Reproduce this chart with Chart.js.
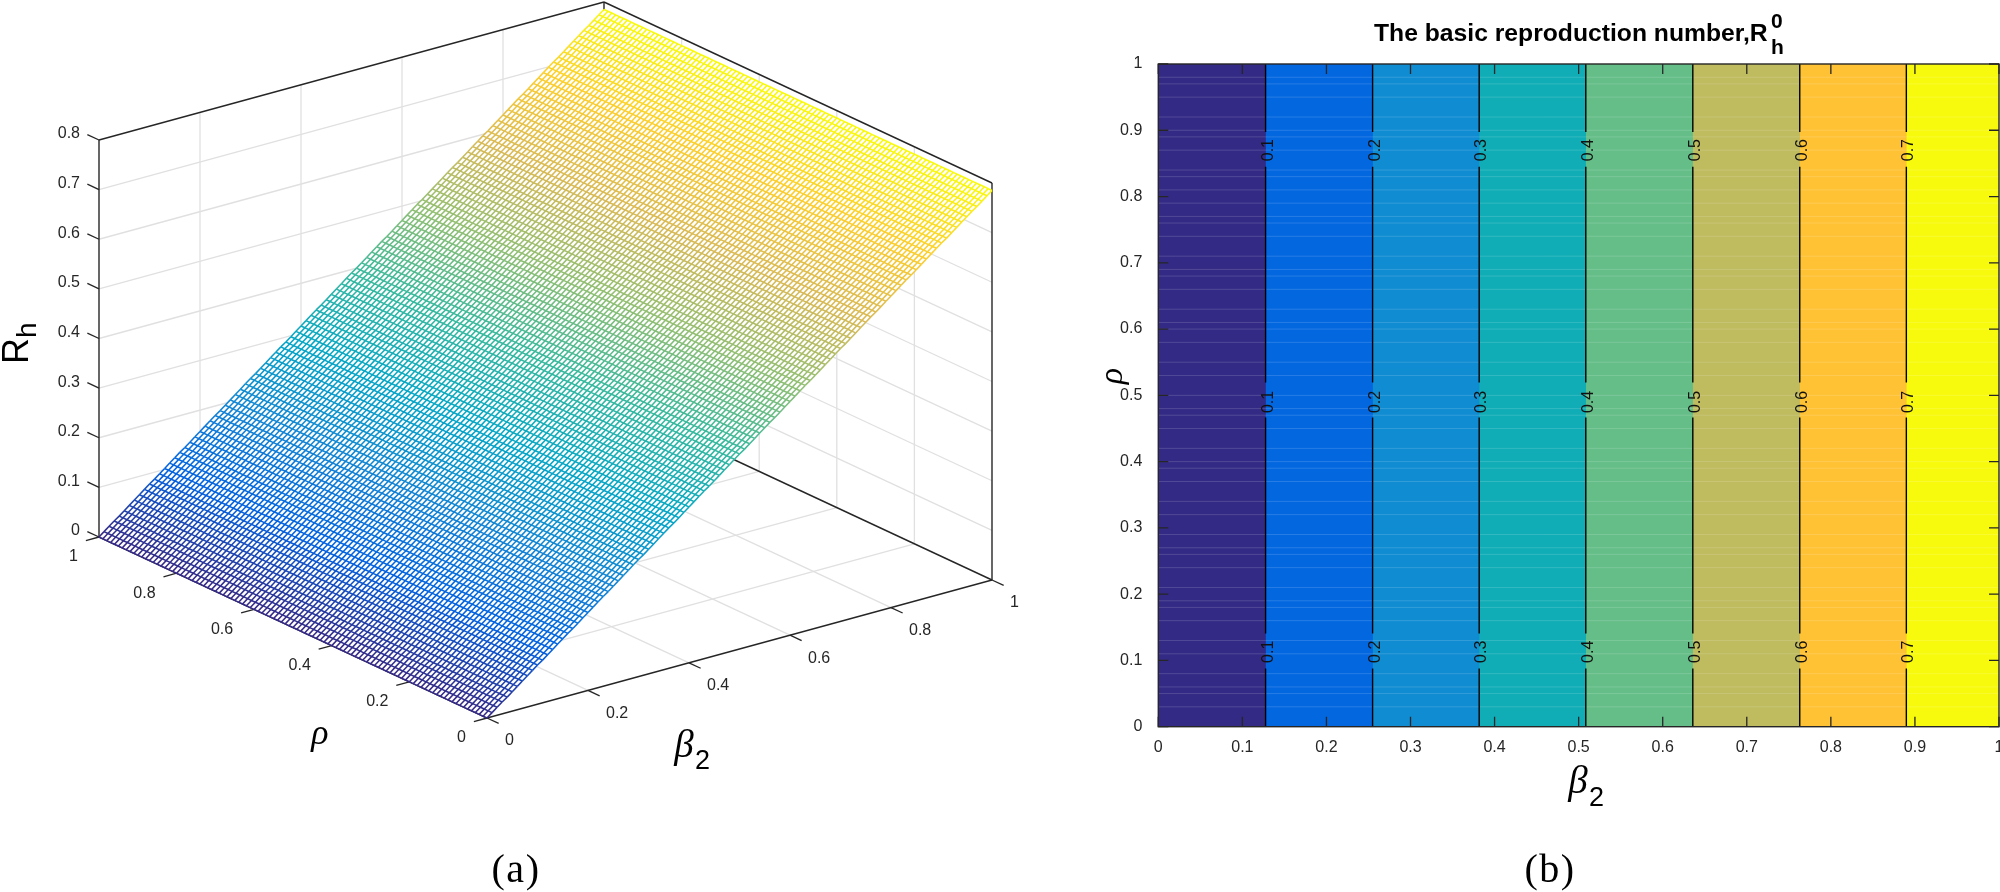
<!DOCTYPE html>
<html><head><meta charset="utf-8">
<style>html,body{margin:0;padding:0;background:#fff;overflow:hidden}canvas{position:absolute;top:0}</style>
<script src="https://cdn.jsdelivr.net/npm/chart.js@4"></script></head><body>
<canvas id="left" width="1080" height="892" style="left:0"></canvas>
<canvas id="right" width="920" height="892" style="left:1080px"></canvas>
<script>
// ---------- data ----------
const rhoTicks=[0,0.2,0.4,0.6,0.8,1];
const betaTicks=[0,0.2,0.4,0.6,0.8,1];
const zTicks=[0,0.1,0.2,0.3,0.4,0.5,0.6,0.7,0.8];
const meshBeta=[0,.01,.02,.03,.04,.05,.06,.07,.08,.09,.1,.11,.12,.13,.14,.15,.16,.17,.18,.19,.2,.21,.22,.23,.24,.25,.26,.27,.28,.29,.3,.31,.32,.33,.34,.35,.36,.37,.38,.39,.4,.41,.42,.43,.44,.45,.46,.47,.48,.49,.5,.51,.52,.53,.54,.55,.56,.57,.58,.59,.6,.61,.62,.63,.64,.65,.66,.67,.68,.69,.7,.71,.72,.73,.74,.75,.76,.77,.78,.79,.8,.81,.82,.83,.84,.85,.86,.87,.88,.89,.9,.91,.92,.93,.94,.95,.96,.97,.98,.99,1];
const meshRho=[0,.01,.02,.03,.04,.05,.06,.07,.08,.09,.1,.11,.12,.13,.14,.15,.16,.17,.18,.19,.2,.21,.22,.23,.24,.25,.26,.27,.28,.29,.3,.31,.32,.33,.34,.35,.36,.37,.38,.39,.4,.41,.42,.43,.44,.45,.46,.47,.48,.49,.5,.51,.52,.53,.54,.55,.56,.57,.58,.59,.6,.61,.62,.63,.64,.65,.66,.67,.68,.69,.7,.71,.72,.73,.74,.75,.76,.77,.78,.79,.8,.81,.82,.83,.84,.85,.86,.87,.88,.89,.9,.91,.92,.93,.94,.95,.96,.97,.98,.99,1];
const meshRh=[0,.008,.016,.024,.031,.039,.047,.055,.063,.071,.079,.086,.094,.102,.110,.118,.126,.133,.141,.149,.157,.165,.173,.181,.188,.196,.204,.212,.220,.228,.236,.243,.251,.259,.267,.275,.283,.290,.298,.306,.314,.322,.330,.338,.345,.353,.361,.369,.377,.385,.393,.400,.408,.416,.424,.432,.440,.447,.455,.463,.471,.479,.487,.495,.502,.510,.518,.526,.534,.542,.550,.557,.565,.573,.581,.589,.597,.604,.612,.620,.628,.636,.644,.652,.659,.667,.675,.683,.691,.699,.707,.714,.722,.730,.738,.746,.754,.761,.769,.777,.785];
const contourLevels=[0.1,0.2,0.3,0.4,0.5,0.6,0.7];
const contourBeta=[0.1276,0.2549,0.3817,0.5085,0.6358,0.763,0.8898];
const bandEdges=[0,0.1276,0.2549,0.3817,0.5085,0.6358,0.763,0.8898];
const bandColors=['#332A85','#0367E0','#108CD2','#10ADB6','#65BE88','#BFBB5F','#FFC235','#F8FA0D'];
const labelCentres=[0.113,0.49,0.87];
const labelGaps=[[0.088,0.1408],[0.4665,0.5193],[0.845,0.8974]];
const axisTicks=[0,0.1,0.2,0.3,0.4,0.5,0.6,0.7,0.8,0.9,1];
const seams=[.03,.05,.06,.08,.11,.13,.16,.18,.19,.21,.24,.26,.27,.29,.32,.34,.37,.39,.40,.42,.45,.47,.48,.50,.53,.55,.58,.60,.61,.63,.66,.68,.69,.71,.74,.76,.77,.79,.81,.83,.84,.87,.89,.90,.92,.95,.97,.98];
const parula=[[53,42,135],[3,99,225],[20,133,212],[6,167,198],[56,185,158],[146,191,115],[217,186,86],[252,206,46],[249,251,14]];
const dark='#262626',gridGrey='#E0E0E0',sans='"Liberation Sans"',serif='"Liberation Serif"';
Chart.defaults.animation=false;Chart.defaults.responsive=false;
Chart.defaults.plugins.legend.display=false;Chart.defaults.plugins.tooltip.enabled=false;

// ---------- shared helpers ----------
function drawText(ctx,items){for(const t of items){ctx.save();ctx.translate(t.x,t.y);if(t.rot)ctx.rotate(t.rot);
  ctx.font=t.font;ctx.fillStyle=t.color||'#000';ctx.textAlign=t.align||'center';ctx.textBaseline=t.base||'alphabetic';
  if(t.spacing)ctx.letterSpacing=t.spacing;ctx.fillText(t.text,0,0);ctx.restore();}}
function colorAt(v){const f=Math.max(0,Math.min(1,v/0.785))*(parula.length-1),i=Math.min(parula.length-2,Math.floor(f)),k=f-i,a=parula[i],b=parula[i+1];
  return `rgb(${a.map((c,n)=>Math.round(c+(b[n]-c)*k)).join(',')})`;}

// ---------- (a) surface ----------
function P(b,r,z){return {x:487+505*b-388*r,y:718-138*b-181*r-496.25*z};}
const ds=[];
function seg(pts,color,w){ds.push({data:pts,borderColor:color,borderWidth:w,pointRadius:0,fill:false,tension:0,showLine:true});}
const inner=[0.2,0.4,0.6,0.8];
for(const z of zTicks.slice(1,-1)){seg([P(0,1,z),P(1,1,z)],gridGrey,1.3);seg([P(1,1,z),P(1,0,z)],gridGrey,1.3);}
for(const t of inner){seg([P(t,1,0),P(t,1,.8)],gridGrey,1.3);seg([P(1,t,0),P(1,t,.8)],gridGrey,1.3);
  seg([P(t,0,0),P(t,1,0)],gridGrey,1.3);seg([P(0,t,0),P(1,t,0)],gridGrey,1.3);}
for(const pair of [[P(0,1,0),P(0,1,.8)],[P(0,1,.8),P(1,1,.8)],[P(1,1,.8),P(1,0,.8)],[P(1,1,0),P(1,1,.8)],[P(1,0,0),P(1,0,.8)],
  [P(0,1,0),P(1,1,0)],[P(1,1,0),P(1,0,0)],[P(0,1,0),P(0,0,0)],[P(0,0,0),P(1,0,0)]]) seg(pair,dark,1.4);
for(const z of zTicks) seg([P(0,1,z),P(0,1.03,z)],dark,1.3);
for(const r of rhoTicks) seg([P(0,r,0),P(-0.026,r,0)],dark,1.3);
for(const b of betaTicks) seg([P(b,0,0),P(b,-0.03,0)],dark,1.3);
const zEnd=meshRh[meshRh.length-1];
ds.push({data:[P(0,1,0),P(1,1,zEnd),P(1,0,zEnd)],borderWidth:0,pointRadius:0,fill:'+1',backgroundColor:'#fff',showLine:true});
ds.push({data:[P(0,1,0),P(0,0,0),P(1,0,zEnd)],borderWidth:0,pointRadius:0,fill:false,showLine:true});
const meshW=1.55;
meshBeta.forEach((b,i)=>{seg(meshRho.map(r=>P(b,r,meshRh[i])),colorAt(meshRh[i]),meshW);});
meshRho.forEach(r=>{const d=meshBeta.map((b,i)=>P(b,r,meshRh[i]));
  ds.push({data:d,borderWidth:meshW,pointRadius:0,fill:false,showLine:true,borderColor:'#000',
    segment:{borderColor:c=>colorAt(meshRh[c.p0DataIndex])}});});
ds.forEach((d,i)=>{d.order=ds.length-i;});

const leftText=[];
const tickFont=`16px ${sans}`;
for(const z of zTicks){const p=P(0,1,z);leftText.push({text:String(z),x:80,y:p.y-6,font:tickFont,align:'right',base:'middle',color:dark});}
for(const r of rhoTicks){const p=P(0,r,0);leftText.push({text:String(r),x:p.x-21,y:p.y+20,font:tickFont,align:'right',base:'middle',color:dark});}
for(const b of betaTicks){const p=P(b,0,0);leftText.push({text:String(b),x:p.x+18,y:p.y+23,font:tickFont,align:'left',base:'middle',color:dark});}
leftText.push({text:'ρ',x:320,y:744,font:`italic 36px ${serif}`});
leftText.push({text:'β',x:684,y:757,font:`italic 39px ${serif}`});
leftText.push({text:'2',x:695,y:769,font:`27px ${sans}`,align:'left'});
leftText.push({text:'R',x:28,y:364,rot:-Math.PI/2,font:`36px ${sans}`,align:'left'});
leftText.push({text:'h',x:36,y:338,rot:-Math.PI/2,font:`28px ${sans}`,align:'left'});
leftText.push({text:'(a)',x:516,y:882,font:`40px ${serif}`,spacing:'1.5px'});

new Chart(document.getElementById('left'),{type:'scatter',data:{datasets:ds},
  options:{layout:{padding:0},parsing:false,normalized:true,
    scales:{x:{type:'linear',display:false,min:0,max:1080},y:{type:'linear',display:false,min:0,max:892,reverse:true}}},
  plugins:[{id:'t',afterDraw(c){drawText(c.ctx,leftText);}}]});

// ---------- (b) contour ----------
const rds=[];
bandColors.forEach((col,i)=>rds.push({data:[{x:bandEdges[i],y:1},{x:1,y:1}],backgroundColor:col,borderWidth:0,pointRadius:0,fill:'origin',showLine:true}));
seams.forEach(v=>rds.push({data:[{x:0,y:v},{x:1,y:v}],borderColor:'rgba(255,255,255,0.15)',borderWidth:1,pointRadius:0,showLine:true}));
contourBeta.forEach(b=>{const d=[{x:b,y:0}];labelGaps.forEach(g=>{d.push({x:b,y:g[0]},{x:b,y:null},{x:b,y:g[1]});});d.push({x:b,y:1});
  rds.push({data:d,borderColor:'#000',borderWidth:1.4,pointRadius:0,showLine:true,spanGaps:false});});
rds.forEach((d,i)=>{d.order=rds.length-i;});

const boxPlugin={id:'box',afterDatasetsDraw(c){const {ctx,chartArea:a,scales:{x,y}}=c;ctx.save();ctx.strokeStyle=dark;ctx.lineWidth=1.3;
  const L=10;ctx.beginPath();
  for(const t of axisTicks){const px=x.getPixelForValue(t),py=y.getPixelForValue(t);
    ctx.moveTo(px,a.bottom);ctx.lineTo(px,a.bottom-L);ctx.moveTo(px,a.top);ctx.lineTo(px,a.top+L);
    ctx.moveTo(a.left,py);ctx.lineTo(a.left+L,py);ctx.moveTo(a.right,py);ctx.lineTo(a.right-L,py);}
  ctx.stroke();ctx.lineWidth=1.4;ctx.strokeRect(a.left,a.top,a.right-a.left,a.bottom-a.top);ctx.restore();
  const tx=[];
  contourBeta.forEach((b,i)=>labelCentres.forEach(v=>tx.push({text:String(contourLevels[i]),x:x.getPixelForValue(b)+7,y:y.getPixelForValue(v),rot:-Math.PI/2,font:`16px ${sans}`,color:'#111'})));
  const o=1080;
  tx.push({text:'The basic reproduction number,R',x:1374-o,y:41,font:`bold 24.7px ${sans}`,align:'left'});
  tx.push({text:'0',x:1771-o,y:28,font:`bold 21px ${sans}`,align:'left'});
  tx.push({text:'h',x:1771-o,y:54,font:`bold 21px ${sans}`,align:'left'});
  tx.push({text:'ρ',x:1122-o,y:376,rot:-Math.PI/2,font:`italic 34px ${serif}`});
  tx.push({text:'β',x:1578-o,y:793,font:`italic 39px ${serif}`});
  tx.push({text:'2',x:1589-o,y:806,font:`27px ${sans}`,align:'left'});
  tx.push({text:'(b)',x:1550-o,y:882,font:`40px ${serif}`,spacing:'1.5px'});
  drawText(ctx,tx);}};

new Chart(document.getElementById('right'),{type:'scatter',data:{datasets:rds},
  options:{parsing:false,layout:{padding:{top:64,right:1,left:0,bottom:0}},
    scales:{
      x:{type:'linear',min:0,max:1,grid:{display:false},border:{display:false},
        afterBuildTicks(s){s.ticks=axisTicks.map(v=>({value:v}));},
        ticks:{font:{family:'Liberation Sans',size:16},color:dark,padding:3,maxRotation:0,autoSkip:false,callback:v=>String(v)},
        afterFit(s){s.height=892-726.7;s.paddingLeft=0;s.paddingRight=0;}},
      y:{type:'linear',min:0,max:1,grid:{display:false},border:{display:false},
        afterBuildTicks(s){s.ticks=axisTicks.map(v=>({value:v}));},
        ticks:{font:{family:'Liberation Sans',size:16},color:dark,padding:8,autoSkip:false,callback:v=>String(v)},
        afterFit(s){s.width=78.3;s.paddingTop=0;s.paddingBottom=0;}}
    }},
  plugins:[boxPlugin]});
</script></body></html>
